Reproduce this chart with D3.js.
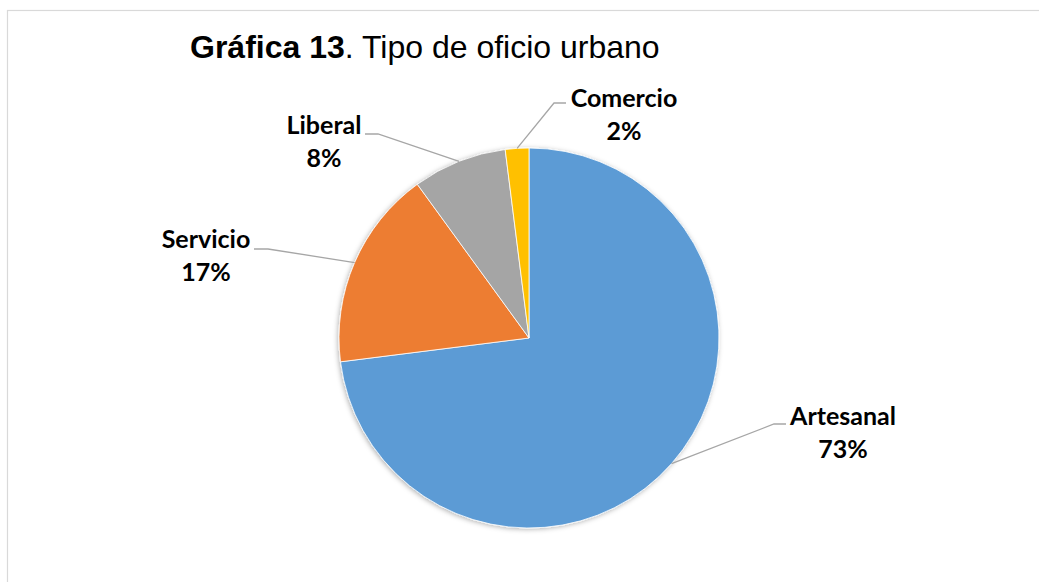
<!DOCTYPE html>
<html>
<head>
<meta charset="utf-8">
<script src="https://cdn.jsdelivr.net/npm/d3@7"></script>
<style>
  html, body { margin: 0; padding: 0; background: #fff; }
  svg { display: block; }
</style>
</head>
<body>
<svg id="chart" width="1039" height="582"></svg>
<script>
// Tipo de oficio urbano — share of each trade (percent)
const categories = ["Artesanal", "Servicio", "Liberal", "Comercio"];
const values = [73, 17, 8, 2];
const colors = ["#5B9BD5", "#ED7D31", "#A5A5A5", "#FFC000"];

// Label placement: text centre, first baseline, and leader elbow / end
const labelLayout = {
  Artesanal: { x: 843, y: 425, elbow: [774, 424], end: [786, 424] },
  Servicio:  { x: 206, y: 248, elbow: [268, 249], end: [254, 249] },
  Liberal:   { x: 324, y: 134, elbow: [378, 134], end: [365, 134] },
  Comercio:  { x: 624, y: 107, elbow: [554, 103], end: [566, 103] }
};

const width = 1039, height = 582;
const cx = 529, cy = 338, radius = 190;

const svg = d3.select("#chart");

// chart frame
svg.append("rect")
  .attr("x", 7.5).attr("y", 10.5)
  .attr("width", 1060).attr("height", 600)
  .attr("fill", "#fff")
  .attr("stroke", "#d9d9d9")
  .attr("stroke-width", 1.2);

// soft outer shadow under the pie
const defs = svg.append("defs");
const filter = defs.append("filter").attr("id", "pieShadow")
  .attr("x", "-10%").attr("y", "-10%").attr("width", "120%").attr("height", "120%");
filter.append("feDropShadow")
  .attr("dx", -1).attr("dy", 1)
  .attr("stdDeviation", 2.5)
  .attr("flood-color", "#000")
  .attr("flood-opacity", 0.3);

// title
const title = svg.append("text")
  .attr("x", 190).attr("y", 58)
  .attr("font-family", "Liberation Sans, Arial, sans-serif")
  .attr("font-size", 32)
  .attr("fill", "#000");
title.append("tspan").attr("font-weight", "bold").text("Gráfica 13");
title.append("tspan").text(". Tipo de oficio urbano");

const color = d3.scaleOrdinal().domain(categories).range(colors);

const data = categories.map((c, i) => ({ name: c, value: values[i] }));

const pie = d3.pie()
  .value(d => d.value)
  .sort(null)
  .startAngle(0)
  .endAngle(2 * Math.PI);

const arc = d3.arc().innerRadius(0).outerRadius(radius);
const edgeArc = d3.arc().innerRadius(radius).outerRadius(radius);

const arcs = pie(data);

const g = svg.append("g").attr("transform", `translate(${cx},${cy})`);

g.append("g")
  .attr("filter", "url(#pieShadow)")
  .selectAll("path")
  .data(arcs)
  .join("path")
  .attr("d", arc)
  .attr("fill", d => color(d.data.name))
  .attr("stroke", "#fff")
  .attr("stroke-width", 0.8);

// leader lines from the slice edge to each label
svg.append("g")
  .selectAll("polyline")
  .data(arcs)
  .join("polyline")
  .attr("fill", "none")
  .attr("stroke", "#a6a6a6")
  .attr("stroke-width", 1.3)
  .attr("points", d => {
    const p = edgeArc.centroid(d);
    const L = labelLayout[d.data.name];
    return [[p[0] + cx, p[1] + cy], L.elbow, L.end].map(q => q.join(",")).join(" ");
  });

// data labels: category name and percentage
const labels = svg.append("g")
  .attr("font-family", "Lato, 'Open Sans', sans-serif")
  .attr("font-weight", "bold")
  .attr("font-size", 25)
  .attr("fill", "#000")
  .attr("text-anchor", "middle");

labels.selectAll("text.name")
  .data(arcs)
  .join("text")
  .attr("class", "name")
  .attr("x", d => labelLayout[d.data.name].x)
  .attr("y", d => labelLayout[d.data.name].y)
  .text(d => d.data.name);

labels.selectAll("text.pct")
  .data(arcs)
  .join("text")
  .attr("class", "pct")
  .attr("x", d => labelLayout[d.data.name].x)
  .attr("y", d => labelLayout[d.data.name].y + 33)
  .text(d => d3.format(".0f")(d.data.value) + "%");
</script>
</body>
</html>
